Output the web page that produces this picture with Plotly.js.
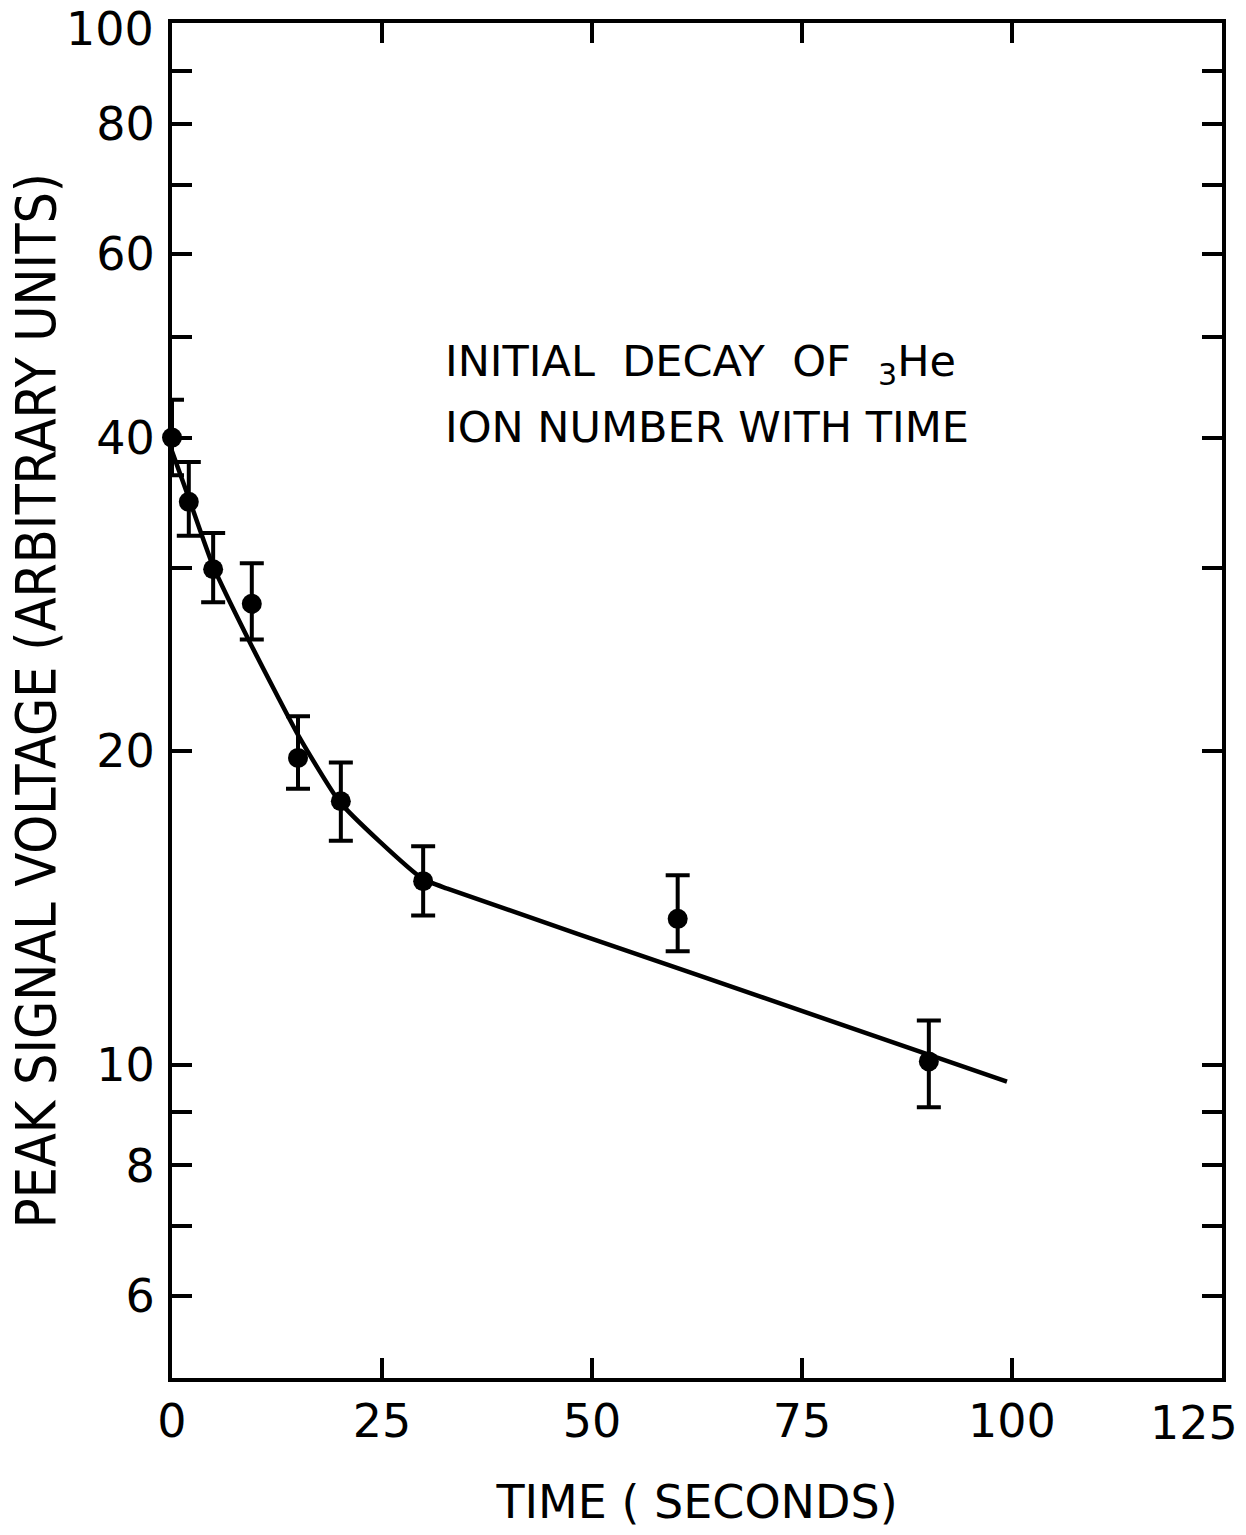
<!DOCTYPE html>
<html>
<head>
<meta charset="utf-8">
<script src="https://cdn.plot.ly/plotly-3.0.1.min.js"></script>
<style>html,body{margin:0;padding:0;background:#fff;}#chart{width:1246px;height:1535px;}</style>
</head>
<body>
<div id="chart"></div>
<script>
// Measured points
const timeSec = [0, 2.0, 4.9, 9.5, 15.0, 20.1, 29.9, 60.2, 90.1];
const signal = [40, 34.7, 29.9, 27.7, 19.7, 17.9, 15.0, 13.8, 10.07];
const errUp = [3.5, 3.2, 2.5, 2.6, 1.9, 1.6, 1.2, 1.4, 0.95];
const errDown = [3.2, 2.5, 2.1, 2.1, 1.3, 1.5, 1.1, 0.95, 0.97];

// Fitted curve
const fitTime = [0, 2.0, 4.9, 9.2, 15.1, 19.9, 24.7, 29.8, 32.7, 62.8, 99.4];
const fitSignal = [38.8, 35.0, 30.1, 25.5, 20.66, 17.9, 16.38, 15.09, 14.76, 12.17, 9.63];

// Tick definitions
const xTicks = [0, 25, 50, 75, 100];
const xEndLabel = '125';
const yLabeledTicks = [6, 8, 10, 20, 40, 60, 80];
const yMinorTicks = [7, 9, 30, 50, 70, 90];
const yEndLabel = '100';

const FONT = 'DejaVu Sans, Liberation Sans, sans-serif';
const CFONT = 'DejaVu Sans Condensed, Liberation Sans Narrow, DejaVu Sans, sans-serif';

const traces = [
  {
    x: fitTime, y: fitSignal, mode: 'lines', type: 'scatter',
    line: {color: '#000', width: 4.5, shape: 'spline', smoothing: 0.5},
    hoverinfo: 'skip', showlegend: false
  },
  {
    x: timeSec, y: signal, mode: 'markers', type: 'scatter', cliponaxis: false,
    marker: {color: '#000', size: 20},
    error_y: {type: 'data', symmetric: false, array: errUp, arrayminus: errDown,
              color: '#000', thickness: 4, width: 12},
    showlegend: false
  },
  {
    // carrier for the unlabeled tick axis
    x: [], y: [], type: 'scatter', mode: 'lines', yaxis: 'y2',
    hoverinfo: 'skip', showlegend: false
  }
];

const yRange = [Math.log10(5), 2.0002];

const layout = {
  width: 1246, height: 1535,
  paper_bgcolor: '#fff', plot_bgcolor: '#fff',
  margin: {l: 172, r: 24, t: 23, b: 157},
  font: {family: FONT, color: '#000'},
  xaxis: {
    range: [0, 125.001], tickmode: 'array', tickvals: xTicks,
    ticks: 'inside', ticklen: 20, tickwidth: 4, tickcolor: '#000',
    showline: true, linewidth: 4, linecolor: '#000', mirror: 'ticks',
    showgrid: false, zeroline: false,
    tickfont: {size: 46, family: FONT}, ticklabelstandoff: 0,
    title: {text: 'TIME ( SECONDS)', font: {size: 46, family: FONT}, standoff: 40}
  },
  yaxis: {
    type: 'log', range: yRange,
    tickmode: 'array', tickvals: yLabeledTicks,
    ticks: 'inside', ticklen: 20, tickwidth: 4, tickcolor: '#000',
    showline: true, linewidth: 4, linecolor: '#000', mirror: 'ticks',
    showgrid: false, zeroline: false,
    tickfont: {size: 46, family: FONT}, ticklabelstandoff: 4,
    title: {text: 'PEAK SIGNAL VOLTAGE (ARBITRARY UNITS)', font: {size: 55, family: CFONT}, standoff: 24}
  },
  yaxis2: {
    type: 'log', range: yRange, overlaying: 'y', side: 'left',
    tickmode: 'array', tickvals: yMinorTicks, showticklabels: false,
    ticks: 'inside', ticklen: 20, tickwidth: 4, tickcolor: '#000',
    showline: false, mirror: 'ticks', showgrid: false, zeroline: false
  },
  annotations: [
    {x: 0.258, y: 0.748, xref: 'paper', yref: 'paper', xanchor: 'left', yanchor: 'middle',
     text: 'INITIAL&nbsp; DECAY&nbsp; OF&nbsp; <sub>3</sub>He', showarrow: false, font: {size: 43, family: FONT}},
    {x: 0.258, y: 0.702, xref: 'paper', yref: 'paper', xanchor: 'left', yanchor: 'middle',
     text: 'ION NUMBER WITH TIME', showarrow: false, font: {size: 43, family: FONT}},
    {x: 125, y: 0, xref: 'x', yref: 'paper', xanchor: 'right', yanchor: 'top',
     xshift: 18, yshift: -16, text: xEndLabel, showarrow: false, font: {size: 46, family: FONT}},
    {x: 0, y: 2, xref: 'paper', yref: 'y', xanchor: 'right', yanchor: 'middle',
     xshift: -16, yshift: -6, text: yEndLabel, showarrow: false, font: {size: 46, family: FONT}}
  ]
};

Plotly.newPlot('chart', traces, layout, {displayModeBar: false, staticPlot: true});
</script>
</body>
</html>
